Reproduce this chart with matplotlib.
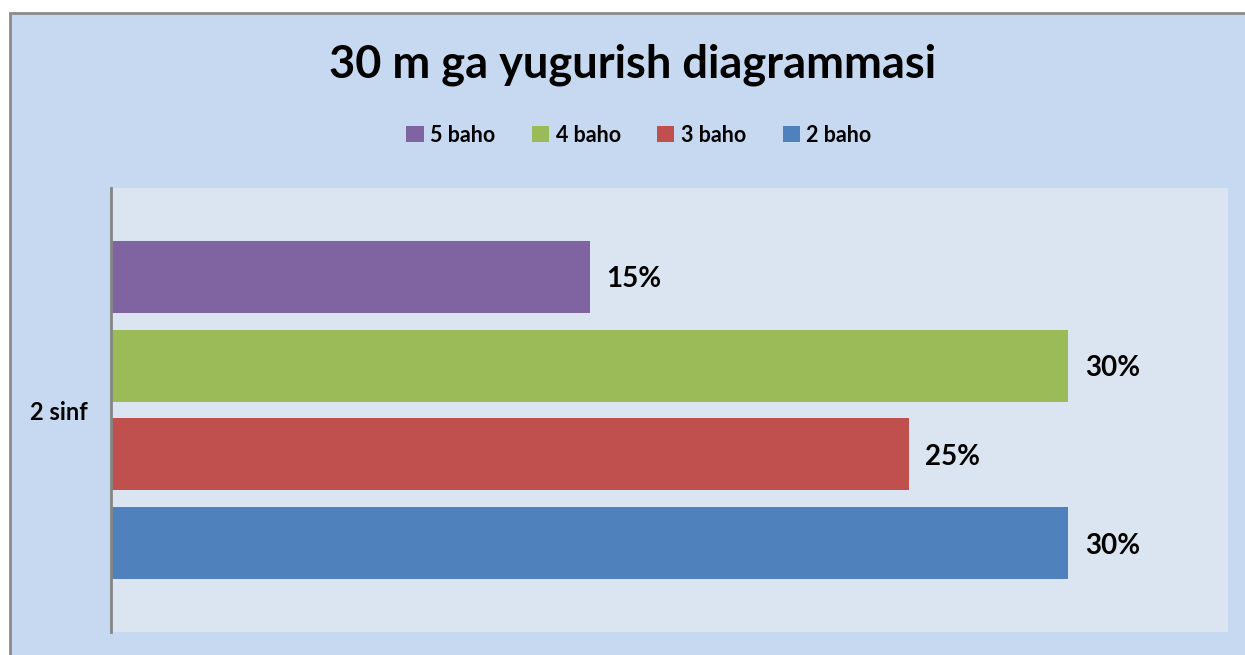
import matplotlib
matplotlib.use("Agg")
import matplotlib.pyplot as plt
from matplotlib.patches import Rectangle

categories = ["2 sinf"]
series_names = ["2 baho", "3 baho", "4 baho", "5 baho"]
series_values = [30, 25, 30, 15]
series_colors = ["#4f81bd", "#c0504d", "#9bbb59", "#8064a2"]
title = "30 m ga yugurish diagrammasi"

plt.rcParams['font.family'] = ['Lato', 'DejaVu Sans']

W, H = 1245, 655
fig = plt.figure(figsize=(W / 100, H / 100), dpi=100)
fig.patch.set_facecolor("white")

# outer chart frame
frame = Rectangle((10 / W, -0.01), (W - 10) / W + 0.01, (H - 13) / H + 0.01, transform=fig.transFigure,
                  facecolor="#c6d9f0", edgecolor="#8c8c8c", linewidth=2, zorder=-10)
fig.patches.append(frame)

ax = fig.add_axes([111 / W, 1 - 632 / H, (1228 - 111) / W, (632 - 188) / H])
ax.set_zorder(1)
ax.set_facecolor("#dbe5f1")

n = len(series_names)
bar_h = 0.162
step = 0.2
for i, (name, val, col) in enumerate(zip(series_names, series_values, series_colors)):
    y = (i - (n - 1) / 2) * step
    ax.barh(y, val, height=bar_h, color=col, label=name, zorder=2)
    ax.text(val + 0.52, y - 0.006, f"{val}%", va="center", ha="left",
            fontsize=20, fontweight="bold", color="black")

ax.set_xlim(0, 35)
ax.set_ylim(-0.5, 0.5)
ax.set_yticks([0])
ax.set_yticklabels(categories, fontsize=17, fontweight="bold")
ax.tick_params(axis="y", length=0, pad=17)
ax.set_xticks([])
for s in ["top", "right", "bottom"]:
    ax.spines[s].set_visible(False)
ax.spines["left"].set_color("#868686")
ax.spines["left"].set_linewidth(2)

fig.text(633 / W, 1 - 65 / H, title, ha="center", va="center",
         fontsize=32.5, fontweight="bold", color="black")

handles, labels = ax.get_legend_handles_labels()
leg = fig.legend(handles[::-1], labels[::-1], loc="center", bbox_to_anchor=(639 / W, 1 - 135 / H),
                 ncol=4, frameon=False, prop={"size": 15.5, "weight": "bold"},
                 handlelength=0.8, handleheight=0.8, handletextpad=0.3, columnspacing=1.7)

fig.savefig("out.png", dpi=100, facecolor=fig.get_facecolor())
